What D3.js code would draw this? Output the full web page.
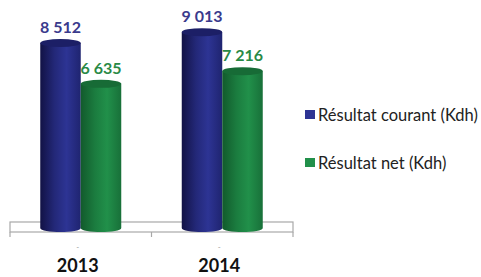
<!DOCTYPE html>
<html>
<head>
<meta charset="utf-8">
<script src="https://cdn.jsdelivr.net/npm/d3@7"></script>
<style>
    body { margin: 0; background: #fff; }
    svg { display: block; font-family: Lato, "Open Sans", sans-serif; }
</style>
</head>
<body>
<div id="chart"></div>
<script>
const years = ['2013', '2014'];
const seriesNames = ['Résultat courant (Kdh)', 'Résultat net (Kdh)'];
const courant = [8512, 9013];
const net = [6635, 7216];

const WIDTH = 481;
const HEIGHT = 277;
const BASE = 228;
const RY = 4;

const palette = [
    {id: 'blue', stops: ['#121245', '#232878', '#2d3494', '#1f2470'], top: '#1c1f66', label: '#3a3a8c'},
    {id: 'green', stops: ['#125a2c', '#1b7c3f', '#21904a', '#187039'], top: '#176b36', label: '#2a8a46'}
];

const series = [courant, net];

const svg = d3.select('#chart')
    .append('svg')
    .attr('width', WIDTH)
    .attr('height', HEIGHT);

const defs = svg.append('defs');
palette.forEach(p => {
    const g = defs.append('linearGradient')
        .attr('id', 'grad-' + p.id)
        .attr('x1', 0).attr('x2', 1).attr('y1', 0).attr('y2', 0);
    p.stops.forEach((c, i) => {
        g.append('stop')
            .attr('offset', [0, 0.35, 0.65, 1][i])
            .attr('stop-color', c);
    });
});

const x = d3.scaleBand()
    .domain(years)
    .range([10, 293]);

const inner = d3.scaleBand()
    .domain(d3.range(series.length))
    .range([0, 81])
    .padding(0);

const y = d3.scaleLinear()
    .domain([0, 10000])
    .range([BASE, BASE - 217.3]);

// floor
const floor = svg.append('g').attr('class', 'floor')
    .attr('fill', 'none')
    .attr('stroke', '#a8a8a8')
    .attr('stroke-width', 1.2);

floor.append('rect')
    .attr('x', x.range()[0])
    .attr('y', 222)
    .attr('width', x.range()[1] - x.range()[0])
    .attr('height', 10);

const tickXs = [x.range()[0], x('2014'), x.range()[1]];
floor.selectAll('line')
    .data(tickXs)
    .join('line')
    .attr('x1', d => d).attr('x2', d => d)
    .attr('y1', 232).attr('y2', 237);

// cylinders
const bars = svg.append('g').attr('class', 'bars');

years.forEach((year, i) => {
    series.forEach((values, s) => {
        const p = palette[s];
        const x0 = x(year) + (x.bandwidth() - 81) / 2 + inner(s);
        const w = inner.bandwidth();
        const rx = w / 2;
        const top = y(values[i]);

        const path = d3.path();
        path.moveTo(x0, top);
        path.lineTo(x0, BASE);
        path.bezierCurveTo(x0, BASE + RY * 1.33, x0 + w, BASE + RY * 1.33, x0 + w, BASE);
        path.lineTo(x0 + w, top);
        path.closePath();

        bars.append('path')
            .attr('d', path.toString())
            .attr('fill', `url(#grad-${p.id})`);

        bars.append('ellipse')
            .attr('cx', x0 + rx)
            .attr('cy', top)
            .attr('rx', rx)
            .attr('ry', RY)
            .attr('fill', p.top);

        svg.append('text')
            .attr('x', x0 + rx)
            .attr('y', top - 10)
            .attr('text-anchor', 'middle')
            .attr('font-size', 16)
            .attr('font-weight', 'bold')
            .attr('fill', p.label)
            .text(d3.format(',')(values[i]).replace(',', ' '));
    });
});

// category labels
const axis = svg.append('g').attr('class', 'x axis');

axis.selectAll('.dash')
    .data(years)
    .join('text')
    .attr('class', 'dash')
    .attr('x', d => x(d) + x.bandwidth() / 2 - 3)
    .attr('y', 250)
    .attr('text-anchor', 'middle')
    .attr('font-size', 8)
    .attr('fill', '#999')
    .text('-');

axis.selectAll('.year')
    .data(years)
    .join('text')
    .attr('class', 'year')
    .attr('x', d => x(d) + x.bandwidth() / 2 - 3)
    .attr('y', 272)
    .attr('text-anchor', 'middle')
    .attr('font-size', 18)
    .attr('font-weight', 'bold')
    .attr('fill', '#111')
    .text(d => d);

// legend
const legend = svg.append('g')
    .attr('class', 'legend')
    .attr('transform', 'translate(305,110)');

const item = legend.selectAll('g')
    .data(seriesNames)
    .join('g')
    .attr('transform', (d, i) => `translate(0,${i * 48})`);

item.append('rect')
    .attr('width', 10)
    .attr('height', 9)
    .attr('fill', (d, i) => palette[i].stops[2]);

item.append('text')
    .attr('x', 13)
    .attr('y', 10.5)
    .attr('font-size', 16.5)
    .attr('fill', '#222')
    .text(d => d);
</script>
</body>
</html>
